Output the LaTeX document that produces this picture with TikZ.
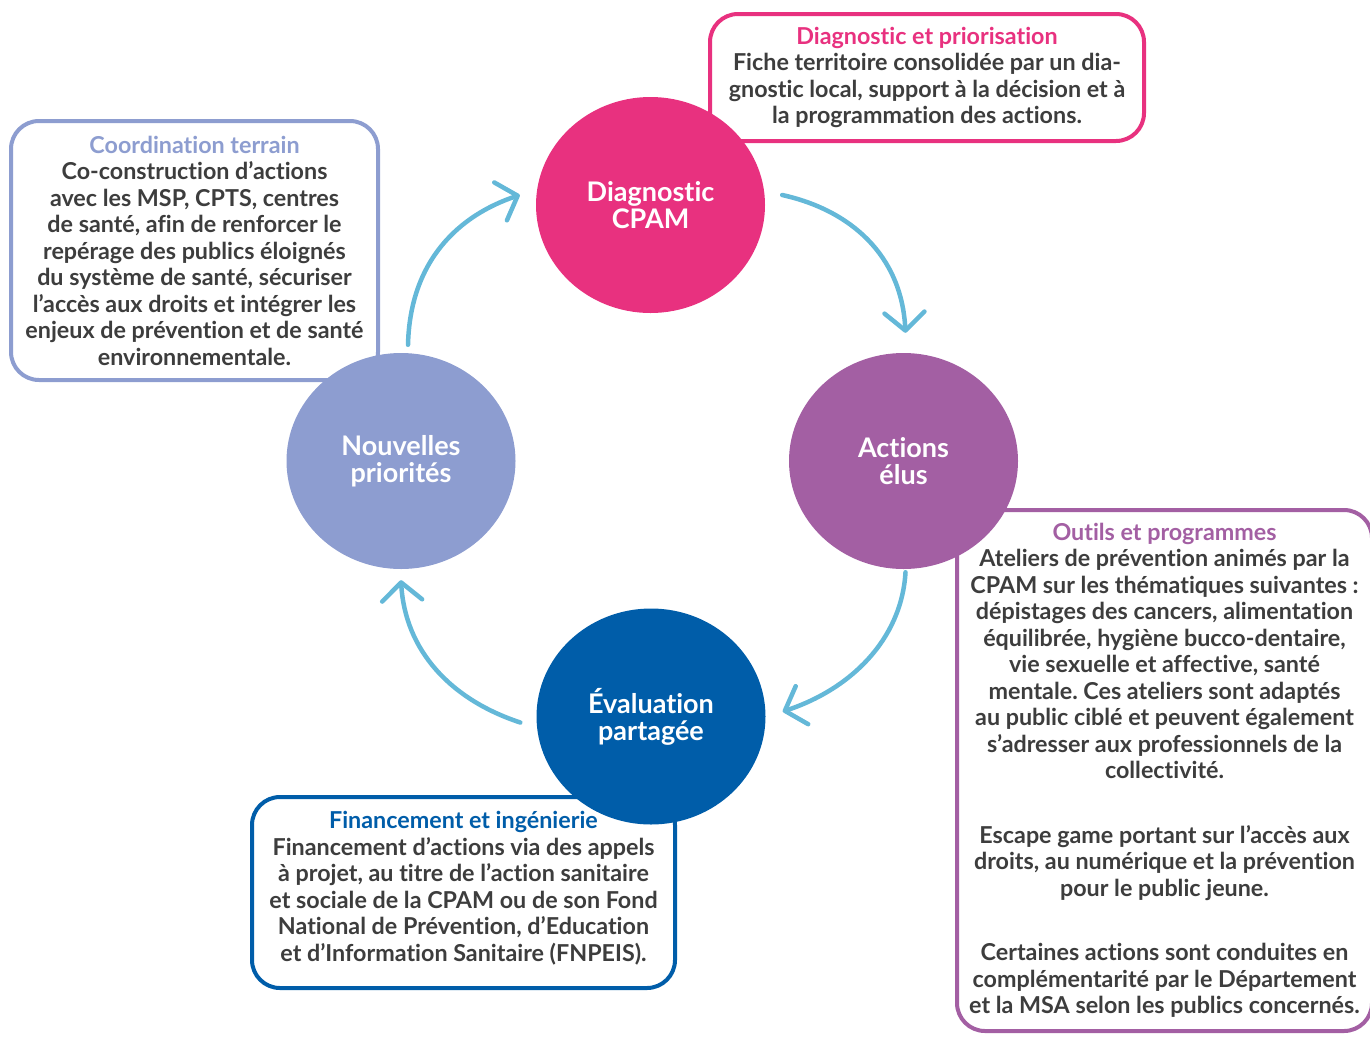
\documentclass[tikz,border=0pt]{standalone}
\usepackage{fontspec}
\setmainfont{Lato}[Ligatures=NoCommon]
\frenchspacing
\usetikzlibrary{shapes.geometric,arrows.meta}
\definecolor{cpampink}{HTML}{E8317F}
\definecolor{elupurple}{HTML}{A35FA3}
\definecolor{evalblue}{HTML}{005DA9}
\definecolor{priolav}{HTML}{8D9DD0}
\definecolor{flowblue}{HTML}{64B8D8}
\definecolor{txtgray}{HTML}{3D3D3D}
\newcommand{\boxfont}{\fontsize{23.3}{26.5}\selectfont\bfseries}
\newcommand{\circfont}{\fontsize{27}{27}\selectfont\bfseries}
\begin{document}
\begin{tikzpicture}[x=1pt,y=-1pt,
  stage/.style={ellipse, minimum width=229pt, minimum height=216pt, inner sep=0pt,
    text=white, align=center, font=\circfont},
  infobox/.style={draw, line width=4pt, rounded corners=28pt, fill=white,
    align=center, inner sep=0pt, text=txtgray, font=\boxfont},
  flow/.style={draw=flowblue, line width=4.5pt, line cap=round,
    -{Straight Barb[length=18pt,width=40pt,round]}}]
  \useasboundingbox (0,0) rectangle (1370,1037);
  % text boxes
  \node[infobox, draw=cpampink, minimum width=434pt, minimum height=127pt] (diagbox) at (927,77.5)
    {\textcolor{cpampink}{Diagnostic et priorisation}\\
     Fiche territoire consolidée par un dia-\\
     gnostic local, support à la décision et à\\
     la programmation des actions.};
  \node[infobox, draw=priolav, minimum width=367pt, minimum height=259pt] (coordbox) at (194.5,250.5)
    {\textcolor{priolav}{Coordination terrain}\\
     Co-construction d’actions\\
     avec les MSP, CPTS, centres\\
     de santé, afin de renforcer le\\
     repérage des publics éloignés\\
     du système de santé, sécuriser\\
     l’accès aux droits et intégrer les\\
     enjeux de prévention et de santé\\
     environnementale.};
  \node[infobox, draw=evalblue, minimum width=423pt, minimum height=191pt] (finbox) at (463.5,892.5)
    {\textcolor{evalblue}{Financement et ingénierie}\\
     Financement d’actions via des appels\\
     à projet, au titre de l’action sanitaire\\
     et sociale de la CPAM ou de son Fond\\
     National de Prévention, d’Education\\
     et d’Information Sanitaire (FNPEIS).\rule[-12pt]{0pt}{12pt}};
  \node[infobox, draw=elupurple, minimum width=415pt, minimum height=521pt] (outilsbox) at (1164.5,770.5)
    {\textcolor{elupurple}{Outils et programmes}\\
     Ateliers de prévention animés par la\\
     CPAM sur les thématiques suivantes :\\
     dépistages des cancers, alimentation\\
     équilibrée, hygiène bucco-dentaire,\\
     vie sexuelle et affective, santé\\
     mentale. Ces ateliers sont adaptés\\
     au public ciblé et peuvent également\\
     s’adresser aux professionnels de la\\
     collectivité.\\[38pt]
     Escape game portant sur l’accès aux\\
     droits, au numérique et la prévention\\
     pour le public jeune.\\[38pt]
     Certaines actions sont conduites en\\
     complémentarité par le Département\\
     et la MSA selon les publics concernés.};
  % cycle stages
  \node[stage, fill=cpampink] (diag) at (650.5,205) {Diagnostic\\CPAM};
  \node[stage, fill=elupurple] (actions) at (903.5,461) {Actions\\élus};
  \node[stage, fill=evalblue] (eval) at (651,716.5) {Évaluation\\partagée};
  \node[stage, fill=priolav] (prio) at (401,461) {Nouvelles\\priorités};
  % arrows between stages
  \draw[flow] ([shift={(17,-10)}]diag.east) .. controls +(68,15) and +(-4,-78) .. ([shift={(2,-20)}]actions.north);
  \draw[flow] ([shift={(2,3)}]actions.south) .. controls +(-4,68) and +(67,-22) .. ([shift={(17,-5)}]eval.east);
  \draw[flow] ([shift={(-16,6)}]eval.west) .. controls +(-70,-23) and +(4,70) .. ([shift={(0,11)}]prio.south);
  \draw[flow] ([shift={(7,-8)}]prio.north) .. controls +(2,-85) and +(-60,20) .. ([shift={(-16,-10)}]diag.west);
\end{tikzpicture}
\end{document}
